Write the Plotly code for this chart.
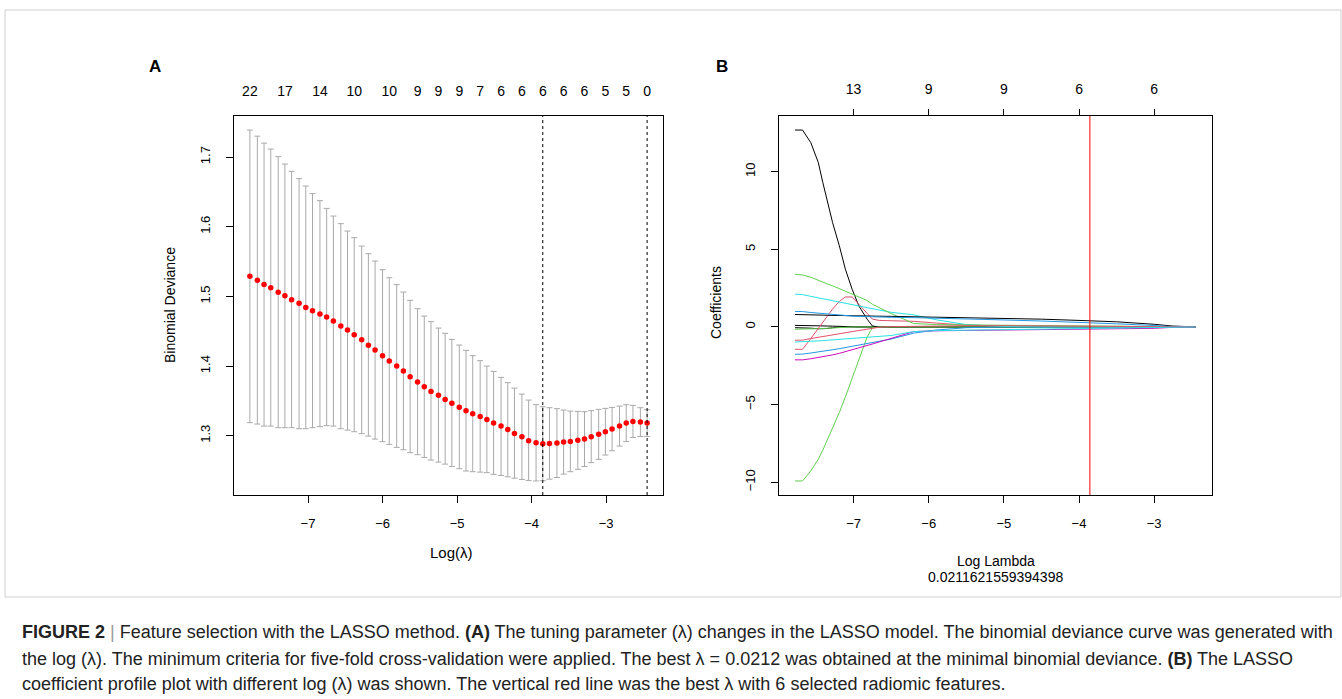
import math
import plotly.graph_objects as go

W, H = 1342, 699

# ---------------- Panel A data (cv.glmnet binomial deviance) ----------------
log_lambda = [-7.78, -7.68, -7.59, -7.50, -7.40, -7.31, -7.22, -7.12, -7.03, -6.94,
              -6.84, -6.75, -6.66, -6.56, -6.47, -6.38, -6.28, -6.19, -6.10, -6.00,
              -5.91, -5.81, -5.72, -5.63, -5.53, -5.44, -5.35, -5.25, -5.16, -5.07,
              -4.97, -4.88, -4.79, -4.69, -4.60, -4.51, -4.41, -4.32, -4.23, -4.13,
              -4.04, -3.94, -3.85, -3.76, -3.66, -3.57, -3.48, -3.38, -3.29, -3.20,
              -3.10, -3.01, -2.92, -2.82, -2.73, -2.64, -2.54, -2.45]
cv_mean = [1.5290, 1.5230, 1.5170, 1.5125, 1.5060, 1.5010, 1.4950, 1.4900, 1.4840, 1.4795,
           1.4746, 1.4703, 1.4646, 1.4574, 1.4516, 1.4450, 1.4378, 1.4297, 1.4229, 1.4149,
           1.4071, 1.3999, 1.3928, 1.3847, 1.3770, 1.3703, 1.3636, 1.3579, 1.3521, 1.3464,
           1.3410, 1.3359, 1.3316, 1.3277, 1.3234, 1.3181, 1.3138, 1.3090, 1.3033, 1.2986,
           1.2928, 1.2900, 1.2885, 1.2889, 1.2894, 1.2908, 1.2918, 1.2933, 1.2951, 1.2986,
           1.3019, 1.3057, 1.3095, 1.3138, 1.3181, 1.3205, 1.3195, 1.3181]
cv_upper = [1.7388, 1.7300, 1.7200, 1.7115, 1.7006, 1.6900, 1.6795, 1.6690, 1.6584, 1.6475,
            1.6374, 1.6263, 1.6153, 1.6044, 1.5938, 1.5843, 1.5722, 1.5613, 1.5507, 1.5383,
            1.5268, 1.5168, 1.5062, 1.4943, 1.4823, 1.4717, 1.4637, 1.4545, 1.4469, 1.4383,
            1.4301, 1.4225, 1.4149, 1.4077, 1.3999, 1.3923, 1.3837, 1.3761, 1.3683, 1.3597,
            1.3511, 1.3445, 1.3416, 1.3402, 1.3388, 1.3368, 1.3353, 1.3349, 1.3345, 1.3359,
            1.3378, 1.3392, 1.3406, 1.3425, 1.3445, 1.3435, 1.3402, 1.3373]
cv_lower = [1.3187, 1.3167, 1.3138, 1.3138, 1.3115, 1.3115, 1.3115, 1.3100, 1.3100, 1.3115,
            1.3130, 1.3144, 1.3138, 1.3100, 1.3080, 1.3057, 1.3029, 1.2994, 1.2951, 1.2914,
            1.2875, 1.2832, 1.2799, 1.2756, 1.2727, 1.2688, 1.2650, 1.2621, 1.2592, 1.2559,
            1.2526, 1.2493, 1.2483, 1.2477, 1.2469, 1.2445, 1.2430, 1.2410, 1.2390, 1.2372,
            1.2355, 1.2350, 1.2354, 1.2376, 1.2400, 1.2448, 1.2483, 1.2517, 1.2557, 1.2613,
            1.2660, 1.2722, 1.2784, 1.2851, 1.2917, 1.2975, 1.2988, 1.2989]
nz_label_index = [0, 5, 10, 15, 20, 24, 27, 30, 33, 36, 39, 42, 45, 48, 51, 54, 57]
nz_labels = ["22", "17", "14", "10", "10", "9", "9", "9", "7", "6", "6", "6", "6", "6", "5", "5", "0"]
lambda_min_index = 42
lambda_1se_index = 57

# ---------------- Panel B data (coefficient paths) ----------------
coef_knots = [-7.78, -7.68, -7.57, -7.47, -7.41, -7.35, -7.28, -7.19, -7.11, -7.02,
              -6.93, -6.82, -6.75, -6.66, -6.50, -6.20, -5.90, -5.50, -5.00, -4.50,
              -4.00, -3.50, -3.00, -2.76, -2.45]
coef_black_small = [0.10, 0.10, 0.09, 0.08, 0.07, 0.06, 0.05, 0.03, 0.02, 0.01, 0, 0, 0, 0, 0, 0, 0, 0, 0, 0, 0, 0, 0, 0, 0]
coef_black_dip = [-0.05, -0.05, -0.08, -0.12, -0.13, -0.10, -0.05, 0, 0, 0, 0, 0, 0, 0, 0, 0, 0, 0, 0, 0, 0, 0, 0, 0, 0]
coef_green_small = [-0.15, -0.15, -0.13, -0.11, -0.10, -0.08, -0.06, -0.04, -0.02, 0, 0, 0, 0, 0, 0, 0, 0, 0, 0, 0, 0, 0, 0, 0, 0]
coef_black_big = [12.68, 12.68, 11.87, 10.59, 9.30, 8.01, 6.72, 5.22, 3.72, 2.43, 1.35, 0.50, 0.06, 0, 0, 0, 0, 0, 0, 0, 0, 0, 0, 0, 0]
coef_green_neg = [-9.92, -9.92, -9.27, -8.52, -7.93, -7.29, -6.53, -5.51, -4.51, -3.32, -2.11, -0.65, -0.05, 0, 0, 0, 0, 0, 0, 0, 0, 0, 0, 0, 0]
coef_pink_bump = [-1.44, -1.44, -0.75, -0.10, 0.30, 0.71, 1.15, 1.65, 1.93, 1.93, 1.46, 0.86, 0.50, 0.42, 0.40, 0.36, 0.25, 0.12, 0.05, 0.02, 0, 0, 0, 0, 0]
coef_blue_low = [-1.76, -1.75, -1.68, -1.62, -1.58, -1.53, -1.47, -1.40, -1.33, -1.27, -1.20, -1.10, -1.03, -0.95, -0.78, -0.40, -0.20, -0.05, 0, 0, 0, 0, 0, 0, 0]
coef_cyan_top = [2.11, 2.08, 1.97, 1.88, 1.82, 1.76, 1.69, 1.60, 1.52, 1.44, 1.35, 1.24, 1.18, 1.09, 0.94, 0.78, 0.46, 0.15, 0.03, 0, 0, 0, 0, 0, 0]
coef_green_top = [3.39, 3.35, 3.20, 2.99, 2.88, 2.77, 2.65, 2.47, 2.30, 2.15, 1.96, 1.70, 1.46, 1.25, 0.86, 0.22, 0.15, 0.13, 0.12, 0.10, 0.08, 0.05, 0.02, 0, 0]
coef_black_mid = [0.80, 0.80, 0.78, 0.77, 0.76, 0.75, 0.74, 0.73, 0.72, 0.71, 0.70, 0.70, 0.69, 0.69, 0.68, 0.66, 0.64, 0.61, 0.56, 0.50, 0.42, 0.33, 0.17, 0.06, 0]
coef_blue_top = [0.99, 0.99, 0.93, 0.88, 0.85, 0.82, 0.79, 0.75, 0.72, 0.70, 0.68, 0.66, 0.65, 0.64, 0.62, 0.60, 0.57, 0.52, 0.45, 0.38, 0.30, 0.20, 0.09, 0.02, 0]
coef_magenta = [-2.12, -2.12, -2.05, -1.98, -1.93, -1.88, -1.80, -1.70, -1.60, -1.48, -1.35, -1.20, -1.10, -0.97, -0.75, -0.30, -0.25, -0.23, -0.21, -0.19, -0.17, -0.14, -0.09, -0.03, 0]
coef_pink_low = [-0.86, -0.85, -0.75, -0.66, -0.61, -0.56, -0.50, -0.43, -0.36, -0.30, -0.23, -0.14, -0.08, -0.02, 0.02, 0.05, 0.07, 0.08, 0.08, 0.07, 0.05, 0.04, 0.02, 0.01, 0]
coef_cyan_low = [-0.97, -0.96, -0.93, -0.90, -0.88, -0.86, -0.84, -0.81, -0.79, -0.76, -0.73, -0.70, -0.67, -0.63, -0.55, -0.30, -0.24, -0.21, -0.18, -0.16, -0.14, -0.11, -0.07, -0.04, 0]

best_lambda = 0.0211621559394398
bottom_ticks = [-7, -6, -5, -4, -3]
top_b_ticks = [-7, -6, -5, -4, -3]
top_b_labels = ["13", "9", "9", "6", "6"]
a_y_ticks = [1.3, 1.4, 1.5, 1.6, 1.7]
b_y_ticks = [-10, -5, 0, 5, 10]

# R default palette
C_BLACK, C_PINK, C_GREEN, C_BLUE, C_CYAN, C_MAG = "#000000", "#DF536B", "#61D04F", "#2297E6", "#28E2E5", "#CD0BBC"
coef_series = [
    (coef_black_small, C_BLACK), (coef_black_dip, C_BLACK), (coef_green_small, C_GREEN),
    (coef_black_big, C_BLACK), (coef_green_neg, C_GREEN), (coef_pink_bump, C_PINK),
    (coef_blue_low, C_BLUE), (coef_cyan_top, C_CYAN), (coef_green_top, C_GREEN),
    (coef_black_mid, C_BLACK), (coef_blue_top, C_BLUE), (coef_magenta, C_MAG),
    (coef_pink_low, C_PINK), (coef_cyan_low, C_CYAN),
]

FONT = "Liberation Sans, Arial, sans-serif"


def fx(px):
    return px / W


def fy(py):
    return 1 - py / H


# plot boxes (pixels)
A_L, A_R = 234, 663
B_L, B_R = 779, 1211.5
P_T, P_B = 116, 495

x_rng = [log_lambda[0] - 0.04 * (log_lambda[-1] - log_lambda[0]),
         log_lambda[-1] + 0.04 * (log_lambda[-1] - log_lambda[0])]
ya_lo, ya_hi = min(cv_lower), max(cv_upper)
ya_rng = [ya_lo - 0.04 * (ya_hi - ya_lo), ya_hi + 0.04 * (ya_hi - ya_lo)]
all_coef = [v for s, _ in coef_series for v in s]
yb_lo, yb_hi = min(all_coef), max(all_coef)
yb_rng = [yb_lo - 0.04 * (yb_hi - yb_lo), yb_hi + 0.04 * (yb_hi - yb_lo)]

fig = go.Figure()

# Panel A: error bars + red points
fig.add_trace(go.Scatter(
    x=log_lambda, y=cv_mean, mode="markers",
    marker=dict(color="#FF0000", size=5.5),
    error_y=dict(type="data", symmetric=False,
                 array=[u - m for u, m in zip(cv_upper, cv_mean)],
                 arrayminus=[m - l for m, l in zip(cv_mean, cv_lower)],
                 color="#A9A9A9", thickness=1, width=3),
    xaxis="x", yaxis="y", showlegend=False, hoverinfo="skip"))
# helper trace for top axis of A
fig.add_trace(go.Scatter(
    x=[log_lambda[i] for i in nz_label_index], y=[cv_mean[i] for i in nz_label_index],
    mode="markers", marker=dict(opacity=0), xaxis="x3", yaxis="y",
    showlegend=False, hoverinfo="skip"))

# Panel B: coefficient paths
for vals, col in coef_series:
    fig.add_trace(go.Scatter(x=coef_knots, y=vals, mode="lines",
                             line=dict(color=col, width=1),
                             xaxis="x2", yaxis="y2", showlegend=False, hoverinfo="skip"))
fig.add_trace(go.Scatter(x=top_b_ticks, y=[0] * len(top_b_ticks), mode="markers",
                         marker=dict(opacity=0), xaxis="x4", yaxis="y2",
                         showlegend=False, hoverinfo="skip"))

axis_common = dict(showgrid=False, zeroline=False, showline=True, mirror=True,
                   linecolor="#000000", linewidth=1, ticks="outside", ticklen=7,
                   tickcolor="#000000", tickwidth=1,
                   tickfont=dict(family=FONT, size=13, color="#000000"))

fig.update_layout(
    width=W, height=H, margin=dict(l=0, r=0, t=0, b=0),
    paper_bgcolor="white", plot_bgcolor="white",
    font=dict(family=FONT, color="#000000"),
    xaxis=dict(domain=[fx(A_L), fx(A_R)], range=x_rng, anchor="y",
               tickvals=bottom_ticks, ticklabelstandoff=9, **axis_common),
    yaxis=dict(domain=[fy(P_B), fy(P_T)], range=ya_rng, anchor="x",
               tickvals=a_y_ticks, ticktext=[f"{v:.1f}" for v in a_y_ticks],
               tickangle=-90, ticklabelstandoff=11, **axis_common),
    xaxis3=dict(overlaying="x", side="top", anchor="y", range=x_rng,
                tickvals=[log_lambda[i] for i in nz_label_index], ticktext=nz_labels,
                ticks="", showline=False, showgrid=False, zeroline=False,
                ticklabelstandoff=16,
                tickfont=dict(family=FONT, size=14, color="#000000")),
    xaxis2=dict(domain=[fx(B_L), fx(B_R)], range=x_rng, anchor="y2",
                tickvals=bottom_ticks, ticklabelstandoff=9, **axis_common),
    yaxis2=dict(domain=[fy(P_B), fy(P_T)], range=yb_rng, anchor="x2",
                tickvals=b_y_ticks, tickangle=-90, ticklabelstandoff=11, **axis_common),
    xaxis4=dict(overlaying="x2", side="top", anchor="y2", range=x_rng,
                tickvals=top_b_ticks, ticktext=top_b_labels,
                ticks="outside", ticklen=6, tickcolor="#000000", showline=False,
                showgrid=False, zeroline=False, ticklabelstandoff=9,
                tickfont=dict(family=FONT, size=14, color="#000000")),
)

# reference lines
for idx in (lambda_min_index, lambda_1se_index):
    fig.add_shape(type="line", xref="x", yref="y domain",
                  x0=log_lambda[idx], x1=log_lambda[idx], y0=0, y1=1,
                  line=dict(color="#000000", width=1, dash="dot"))
fig.add_shape(type="line", xref="x2", yref="y2 domain",
              x0=math.log(best_lambda), x1=math.log(best_lambda), y0=0, y1=1,
              line=dict(color="#FF0000", width=1))

# figure frame
fig.add_shape(type="rect", xref="paper", yref="paper",
              x0=fx(5), x1=fx(1341), y0=fy(597), y1=fy(10),
              line=dict(color="#CFCFCF", width=1), fillcolor="rgba(0,0,0,0)", layer="below")

ann = []
ann.append(dict(text="<b>A</b>", x=fx(155), y=fy(67), font=dict(size=17)))
ann.append(dict(text="<b>B</b>", x=fx(722), y=fy(67), font=dict(size=17)))
ann.append(dict(text="Binomial Deviance", x=fx(170), y=fy(305), textangle=-90, font=dict(size=14)))
ann.append(dict(text="Log(λ)", x=fx(451), y=fy(552), font=dict(size=15)))
ann.append(dict(text="Coefficients", x=fx(716), y=fy(303), textangle=-90, font=dict(size=14)))
ann.append(dict(text="Log Lambda", x=fx(996), y=fy(561), font=dict(size=14)))
ann.append(dict(text=str(best_lambda), x=fx(996), y=fy(577), font=dict(size=14)))
for a in ann:
    a.update(xref="paper", yref="paper", showarrow=False, xanchor="center", yanchor="middle")
    a["font"].update(family=FONT, color="#000000")
    fig.add_annotation(**a)

caption = [
    "<b>FIGURE 2</b> <span style='color:#999999'>|</span> Feature selection with the LASSO method. <b>(A)</b> The tuning parameter (λ) changes in the LASSO model. The binomial deviance curve was generated with",
    "the log (λ). The minimum criteria for five-fold cross-validation were applied. The best λ = 0.0212 was obtained at the minimal binomial deviance. <b>(B)</b> The LASSO",
    "coefficient profile plot with different log (λ) was shown. The vertical red line was the best λ with 6 selected radiomic features.",
]
for line, py in zip(caption, [632, 659, 684]):
    fig.add_annotation(text=line, x=fx(20), y=fy(py), xref="paper", yref="paper",
                       showarrow=False, xanchor="left", yanchor="middle",
                       font=dict(family=FONT, size=18, color="#222222"))

fig.write_html("out.html", config={"displayModeBar": False},
               post_script="document.body.style.margin='0';document.body.style.overflow='hidden';")
